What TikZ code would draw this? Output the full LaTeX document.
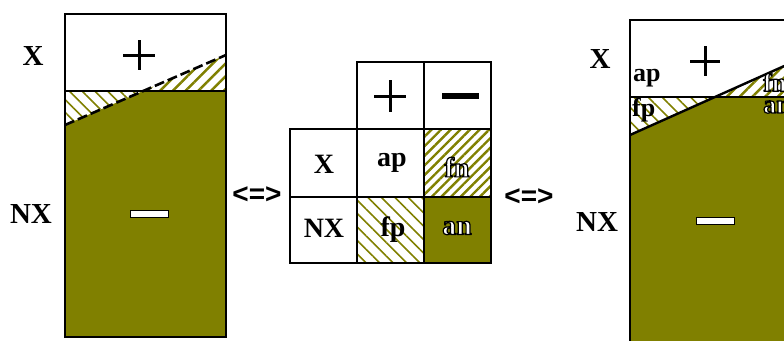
\documentclass[tikz,border=0pt]{standalone}
\usepackage{fontspec}
\setmainfont{Liberation Serif}
\newfontfamily\eqvfont{Liberation Sans}
\usetikzlibrary{patterns.meta}
\definecolor{olv}{HTML}{808000}
\tikzset{
  lbl/.style={font=\fontsize{29}{29}\selectfont\bfseries, inner sep=0pt},
  cell/.style={font=\fontsize{28}{28}\selectfont\bfseries, inner sep=0pt},
  small/.style={font=\fontsize{26}{26}\selectfont\bfseries, inner sep=0pt},
  eqv/.style={font=\fontsize{28}{28}\selectfont\eqvfont\bfseries, inner sep=0pt},
  frame/.style={draw=black, line width=2.4pt},
  grid/.style={draw=black, line width=1.5pt},
  cut/.style={draw=black, line width=2.6pt, dash pattern=on 10pt off 4pt},
  roughcut/.style={draw=black, line width=2.4pt},
  hatchup/.style={pattern={Lines[angle=45,distance=#1,line width=2.4pt]}, pattern color=olv},
  hatchdown/.style={pattern={Lines[angle=-45,distance=#1,line width=1.6pt]}, pattern color=olv},
  minusbar/.style={draw=black, line width=1pt, fill=white},
  plussign/.style={draw=black, line width=3pt},
  hollow/.style={text=white},
}
% white letters stroked with a thin black outline (fill + stroke text mode)
\newcommand\outl[1]{\special{pdf:code q 2 Tr 0 G 1.2 w 1 j}#1\special{pdf:code Q}}
\begin{document}
\begin{tikzpicture}[x=1pt,y=-1pt]
\useasboundingbox (0,0) rectangle (784,340);
\clip (0,0) rectangle (784,340);

% ---------- left population box ----------
\coordinate (Ltl) at (65,14);
\coordinate (Lbr) at (226,337);
\coordinate (Lml) at (65,91);
\coordinate (Lmr) at (226,91);
\coordinate (Lcl) at (65,125);
\coordinate (Lcr) at (226,55);
\coordinate (Lx) at (intersection of Lml--Lmr and Lcl--Lcr);
\fill[white] (Ltl) rectangle (Lbr);
\fill[hatchup=9pt] (Lx) -- (Lcr) -- (Lmr) -- cycle;
\fill[hatchdown=9pt] (Lml) -- (Lx) -- (Lcl) -- cycle;
\fill[olv] (Lcl) -- (Lx) -- (Lmr) -- (Lbr) -- (65,337) -- cycle;
\draw[grid, line width=2pt] (Lml) -- (Lmr);
\draw[cut] (Lcl) -- (Lcr);
\draw[frame] (Ltl) rectangle (Lbr);
\draw[plussign] (123,55) -- (155,55) (139,40) -- (139,70);
\draw[minusbar] (130,210) rectangle (168,217);
\node[lbl] (lX) at (33,56) {X};
\node[lbl] (lNX) at (31,214) {NX};

\node[eqv] (eq1) at (257,195) {<=>};

% ---------- confusion table ----------
\fill[hatchup=6.8pt] (424,129) rectangle (491,197);
\fill[hatchdown=9.5pt] (357,197) rectangle (424,263);
\fill[olv] (424,197) rectangle (491,263);
\draw[grid] (357,62) rectangle (491,263);
\draw[grid] (290,129) rectangle (491,263);
\draw[grid] (424,62) -- (424,263);
\draw[grid] (290,197) -- (491,197);
\draw[plussign] (374,96) -- (406,96) (390,80) -- (390,112);
\fill[black] (442,93) rectangle (479,99);
\node[cell] (tX) at (324,164) {X};
\node[cell] (tNX) at (324,228) {NX};
\node[cell] (tap) at (392,163) {ap};
\node[cell] (tfp) at (393,230) {fp};
\node[cell, hollow] (tfn) at (457,167) {\outl{fn}};
\node[cell, hollow] (tan) at (457,228) {\outl{an}};

\node[eqv] (eq2) at (529,197) {<=>};

% ---------- right population box ----------
\coordinate (Rtl) at (630,20);
\coordinate (Rbr) at (820,360);
\coordinate (Rml) at (630,97);
\coordinate (Rmr) at (820,97);
\coordinate (Rcl) at (630,135);
\coordinate (Rcr) at (820,50);
\coordinate (Rx) at (intersection of Rml--Rmr and Rcl--Rcr);
\fill[white] (Rtl) rectangle (Rbr);
\fill[hatchup=9pt] (Rx) -- (Rcr) -- (Rmr) -- cycle;
\fill[hatchdown=10pt] (Rml) -- (Rx) -- (Rcl) -- cycle;
\fill[olv] (Rcl) -- (Rx) -- (Rmr) -- (Rbr) -- (630,360) -- cycle;
\draw[grid, line width=2pt] (Rml) -- (Rmr);
\draw[roughcut] (Rcl) -- (Rcr);
\draw[frame] (Rtl) rectangle (Rbr);
\draw[plussign] (690,61) -- (720,61) (705,46) -- (705,76);
\draw[minusbar] (696,217) rectangle (734,224);
\node[small, anchor=west] (rap) at (633,78) {ap};
\node[small, anchor=west] (rfp) at (632,110) {fp};
\node[small, hollow, anchor=west] (rfn) at (763,82) {\outl{fn}};
\node[small, hollow, anchor=west] (ran) at (763,107) {\outl{an}};
\node[lbl] (rX) at (600,59) {X};
\node[lbl] (rNX) at (597,222) {NX};
\end{tikzpicture}
\end{document}
